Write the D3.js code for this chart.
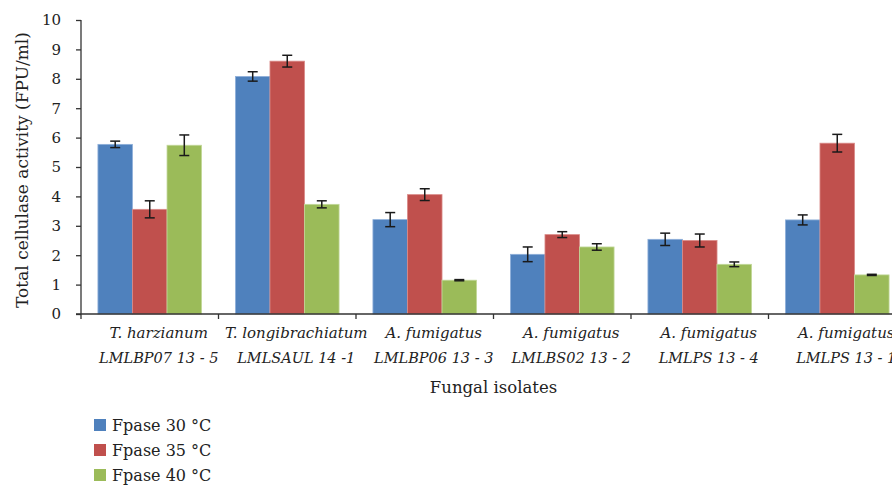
<!DOCTYPE html>
<html><head><meta charset="utf-8">
<script src="https://cdn.jsdelivr.net/npm/d3@7"></script>
<style>body{margin:0;background:#fff;} svg{display:block;}</style>
</head><body>
<svg id="chart" width="892" height="485"></svg>
<script>
const speciesLabels = ["T. harzianum","T. longibrachiatum","A. fumigatus","A. fumigatus","A. fumigatus","A. fumigatus"];
const strainLabels = ["LMLBP07 13 - 5","LMLSAUL 14 -1","LMLBP06 13 - 3","LMLBS02 13 - 2","LMLPS 13 - 4","LMLPS 13 - 1"];
const seriesNames = ["Fpase 30 °C","Fpase 35 °C","Fpase 40 °C"];
const fpase30 = [5.77, 8.08, 3.21, 2.03, 2.54, 3.20];
const fpase35 = [3.56, 8.60, 4.06, 2.70, 2.50, 5.81];
const fpase40 = [5.74, 3.73, 1.15, 2.28, 1.69, 1.33];
const err30 = [0.11, 0.16, 0.24, 0.25, 0.21, 0.17];
const err35 = [0.29, 0.20, 0.20, 0.10, 0.22, 0.30];
const err40 = [0.35, 0.12, 0.02, 0.11, 0.08, 0.02];
const yTicks = [0,1,2,3,4,5,6,7,8,9,10];
const colors = ["#4F81BD","#C0504D","#9BBB59"];
const strokes = ["#8FB0DA","#DA8A88","#C2D89A"];

(function(){
const svg = d3.select("#chart");
const mL = 81, mR = 906, mT = 20, mB = 314;
const cats = d3.range(speciesLabels.length);
const x = d3.scaleBand().domain(cats).range([mL, mR]).paddingInner(0).paddingOuter(0);
const y = d3.scaleLinear().domain([0, 10]).range([mB, mT]);
const sub = d3.scaleBand().domain([0,1,2]).range([0, x.bandwidth()]).paddingOuter(0.49).paddingInner(0);

const vals = [fpase30, fpase35, fpase40];
const errs = [err30, err35, err40];

const serif = "DejaVu Serif";

vals.forEach((arr, s) => {
  svg.append("g").selectAll("rect").data(arr).join("rect")
    .attr("x", (d,i) => x(i) + sub(s))
    .attr("width", sub.bandwidth())
    .attr("y", d => y(d))
    .attr("height", d => y(0) - y(d))
    .attr("fill", colors[s])
    .attr("stroke", strokes[s]).attr("stroke-width", 0.8);
});
vals.forEach((arr, s) => {
  const g = svg.append("g").attr("stroke", "#1a1a1a").attr("stroke-width", 1.5);
  arr.forEach((d, i) => {
    const cx = x(i) + sub(s) + sub.bandwidth()/2;
    const e = errs[s][i];
    g.append("line").attr("x1", cx).attr("x2", cx).attr("y1", y(d+e)).attr("y2", y(d-e));
    g.append("line").attr("x1", cx-5).attr("x2", cx+5).attr("y1", y(d+e)).attr("y2", y(d+e));
    g.append("line").attr("x1", cx-5).attr("x2", cx+5).attr("y1", y(d-e)).attr("y2", y(d-e));
  });
});

const yAxis = d3.axisLeft(y).tickValues(yTicks).tickSize(5).tickPadding(15).tickFormat(d3.format("d"));
const ya = svg.append("g").attr("transform", `translate(${mL},0)`).call(yAxis);
ya.attr("font-family", null).attr("font-size", null);
ya.selectAll("text").style("font-family", serif).style("font-size", "15px").attr("fill", "#222");
ya.selectAll("line, path").attr("stroke", "#333").attr("stroke-width", 1.3);
ya.select("path").attr("d", `M0,${mT}V${mB}`);

const xa = svg.append("g").attr("transform", `translate(0,${mB})`);
xa.append("line").attr("x1", mL - 5).attr("x2", mR).attr("y1", 0).attr("y2", 0).attr("stroke", "#333").attr("stroke-width", 1.5);
xa.selectAll("line.tk").data(cats.concat([cats.length])).join("line").attr("class","tk")
  .attr("x1", i => mL + i * x.step()).attr("x2", i => mL + i * x.step())
  .attr("y1", 0).attr("y2", 5).attr("stroke", "#333").attr("stroke-width", 1.3);
cats.forEach(i => {
  const cx = x(i) + x.bandwidth()/2 + 9;
  const t = xa.append("text").attr("x", cx).attr("text-anchor", "middle")
    .style("font-family", serif).style("font-style", "italic").style("font-size", "15px").attr("fill", "#222");
  t.append("tspan").attr("x", cx).attr("y", 24).text(speciesLabels[i]);
  t.append("tspan").attr("x", cx).attr("y", 49).style("font-size", "14.5px").text(strainLabels[i]);
});

svg.append("text").attr("x", (mL + mR)/2).attr("y", 393).attr("text-anchor", "middle")
  .style("font-family", serif).style("font-size", "16.5px").attr("fill", "#222").text("Fungal isolates");
svg.append("text").attr("transform", `translate(28,${(mT + mB)/2 + 3}) rotate(-90)`).attr("text-anchor", "middle")
  .style("font-family", serif).style("font-size", "17px").attr("fill", "#222").text("Total cellulase activity (FPU/ml)");

const lg = svg.append("g");
seriesNames.forEach((n, s) => {
  const yy = 425 + s * 25;
  lg.append("rect").attr("x", 94).attr("y", yy - 6).attr("width", 12).attr("height", 12).attr("fill", colors[s]);
  lg.append("text").attr("x", 112).attr("y", yy + 6).style("font-family", serif).style("font-size", "16px").attr("fill", "#222").text(n);
});
})();
</script>
</body></html>
